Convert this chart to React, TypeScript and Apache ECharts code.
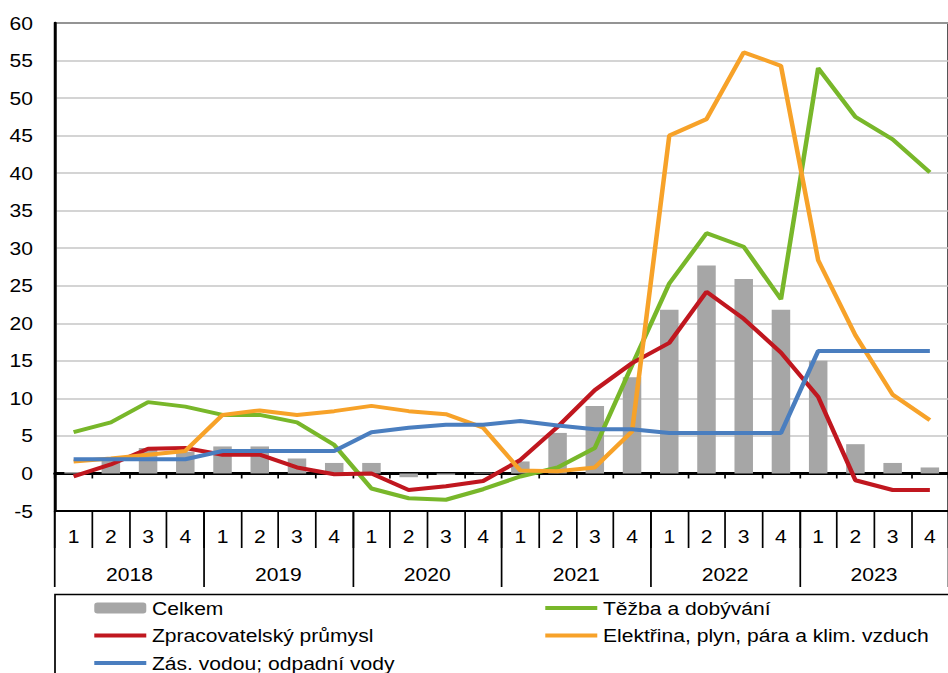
import React, { useEffect, useRef } from "react";
import * as echarts from "echarts";

const quarters = ["1","2","3","4","1","2","3","4","1","2","3","4","1","2","3","4","1","2","3","4","1","2","3","4"];
const years = ["2018", "2019", "2020", "2021", "2022", "2023"];

const celkem = [0.2, 1.8, 3.4, 2.9, 3.6, 3.6, 2.0, 1.4, 1.4, -0.5, -0.2, 0.1, 1.6, 5.4, 9.0, 12.8, 21.8, 27.7, 25.9, 21.8, 15.0, 3.9, 1.4, 0.8];
const tezba = [5.5, 6.8, 9.5, 8.9, 7.8, 7.8, 6.8, 3.8, -2.0, -3.3, -3.5, -2.1, -0.4, 0.8, 3.4, 14.4, 25.3, 32.0, 30.2, 23.2, 54.0, 47.5, 44.5, 40.1];
const zprac = [-0.4, 1.2, 3.3, 3.4, 2.5, 2.5, 0.8, -0.1, 0.0, -2.2, -1.7, -1.0, 1.8, 6.2, 11.1, 14.7, 17.4, 24.2, 20.6, 16.1, 10.2, -0.9, -2.2, -2.2];
const elektr = [1.6, 2.0, 2.5, 3.0, 7.8, 8.4, 7.8, 8.3, 9.0, 8.3, 7.9, 6.1, 0.4, 0.3, 0.8, 5.6, 45.0, 47.2, 56.1, 54.3, 28.4, 18.4, 10.5, 7.1];
const voda = [1.9, 1.9, 1.9, 1.9, 3.0, 3.0, 3.0, 3.0, 5.5, 6.1, 6.5, 6.5, 7.0, 6.4, 5.9, 5.9, 5.4, 5.4, 5.4, 5.4, 16.3, 16.3, 16.3, 16.3];

const names = {
  celkem: "Celkem",
  tezba: "Těžba a dobývání",
  zprac: "Zpracovatelský průmysl",
  elektr: "Elektřina, plyn, pára a klim. vzduch",
  voda: "Zás. vodou; odpadní vody",
};

const S = 1.14;
const W = 832;
const H = 673;
const FONT = "'Liberation Sans', Arial, sans-serif";
const FS = 18.5;

export default function App() {
  const ref = useRef<HTMLDivElement>(null);
  useEffect(() => {
    if (!ref.current) return;
    const chart = echarts.init(ref.current, undefined, { renderer: "svg" });
    const lineSeries = (name: string, data: number[], color: string) => ({
      name,
      type: "line",
      data,
      symbol: "none",
      lineStyle: { color, width: 4 },
      itemStyle: { color },
      xAxisIndex: 0,
      yAxisIndex: 0,
    });
    const lineItem = (name: string) => ({ name, itemStyle: { opacity: 0 } });
    const legendBase = {
      top: 598,
      orient: "vertical",
      padding: 0,
      itemGap: 7.5,
      itemWidth: 52 / S,
      itemHeight: 11,
      lineStyle: { width: 4 },
      textStyle: { fontSize: FS, color: "#000", fontFamily: FONT, lineHeight: 20 },
    };
    chart.setOption({
      animation: false,
      textStyle: { fontFamily: FONT },
      grid: {
        left: 55 / S,
        top: 23,
        bottom: 162,
        right: W - 957.4 / S,
        show: true,
        borderColor: "#000",
        borderWidth: 2,
        backgroundColor: "transparent",
      },
      xAxis: [
        {
          type: "category",
          data: quarters,
          position: "bottom",
          axisLine: { onZero: true, lineStyle: { color: "#000", width: 3 } },
          axisTick: { show: true, interval: 0, length: 5, lineStyle: { color: "#000", width: 1.5 } },
          axisLabel: { show: false },
          splitLine: { show: false },
        },
        {
          type: "category",
          data: quarters,
          position: "bottom",
          axisLine: { onZero: false, lineStyle: { color: "#000", width: 2 } },
          axisTick: { show: true, interval: 0, length: 37, lineStyle: { color: "#000", width: 1.5 } },
          axisLabel: { interval: 0, margin: 16, color: "#000", fontSize: FS, fontFamily: FONT },
          splitLine: { show: false },
        },
        {
          type: "category",
          data: years,
          position: "bottom",
          axisLine: { onZero: false, lineStyle: { color: "#000", width: 2 } },
          axisTick: { show: true, interval: 0, length: 76, lineStyle: { color: "#000", width: 1.5 } },
          axisLabel: { interval: 0, margin: 54, color: "#000", fontSize: FS, fontFamily: FONT },
          splitLine: { show: false },
        },
      ],
      yAxis: {
        type: "value",
        min: -5,
        max: 60,
        interval: 5,
        axisLine: { show: true, lineStyle: { color: "#000", width: 2.5 } },
        axisTick: { show: false },
        axisLabel: { color: "#000", fontSize: FS, fontFamily: FONT, margin: 22 / S },
        splitLine: { show: true, lineStyle: { color: "#c6c6c6", width: 1.5 } },
      },
      legend: [
        {
          ...legendBase,
          left: 92 / S,
          data: [names.celkem, lineItem(names.zprac), lineItem(names.voda)],
        },
        {
          ...legendBase,
          left: 543 / S,
          data: [lineItem(names.tezba), lineItem(names.elektr)],
        },
      ],
      graphic: [
        {
          type: "rect",
          shape: { x: 55 / S, y: 594.5, width: 900, height: 120 },
          style: { fill: "none", stroke: "#000", lineWidth: 1.5 },
          silent: true,
        },
      ],
      series: [
        {
          name: names.celkem,
          type: "bar",
          data: celkem,
          barWidth: 18.5 / S,
          itemStyle: { color: "#a6a6a6" },
          xAxisIndex: 0,
          yAxisIndex: 0,
        },
        lineSeries(names.tezba, tezba, "#78b72a"),
        lineSeries(names.zprac, zprac, "#c0171f"),
        lineSeries(names.elektr, elektr, "#f7a229"),
        lineSeries(names.voda, voda, "#4a7ebf"),
      ],
    });
    return () => chart.dispose();
  }, []);
  return (
    <div style={{ position: "fixed", left: 0, top: 0, width: 948, height: H, overflow: "hidden", background: "#fff" }}>
      <div
        ref={ref}
        style={{ width: W, height: H, transform: `scaleX(${S})`, transformOrigin: "0 0" }}
      />
    </div>
  );
}
